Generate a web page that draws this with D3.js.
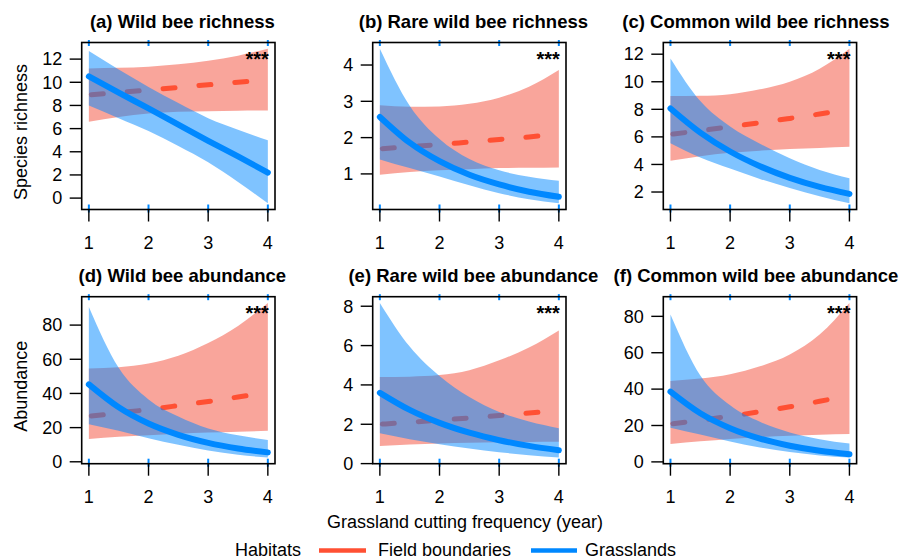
<!DOCTYPE html>
<html>
<head>
<meta charset="utf-8">
<script src="https://cdn.jsdelivr.net/npm/d3@7"></script>
<style>
  body { margin: 0; background: #fff; }
  text { font-family: "Liberation Sans", Arial, sans-serif; fill: #000; }
</style>
</head>
<body>
<div id="chart"></div>
<script>
var xVals = [1, 1.5, 2, 2.5, 3, 3.5, 4];
var xTicks = [1, 2, 3, 4];

var panelLetters = ["(a)", "(b)", "(c)", "(d)", "(e)", "(f)"];
var panelTitles = ["Wild bee richness", "Rare wild bee richness", "Common wild bee richness",
                   "Wild bee abundance", "Rare wild bee abundance", "Common wild bee abundance"];
var yTicks = [
  [0, 2, 4, 6, 8, 10, 12],
  [1, 2, 3, 4],
  [2, 4, 6, 8, 10, 12],
  [0, 20, 40, 60, 80],
  [0, 2, 4, 6, 8],
  [0, 20, 40, 60, 80]
];
var rowTitles = ["Species richness", "Abundance"];
var signif = ["***", "***", "***", "***", "***", "***"];

// Field boundaries (red, dashed)
var fieldFit = [
  [8.9, 9.12, 9.34, 9.56, 9.78, 10.0, 10.2],
  [1.69, 1.75, 1.81, 1.88, 1.95, 2.02, 2.1],
  [6.18, 6.45, 6.74, 7.03, 7.34, 7.66, 8.0],
  [26.6, 28.6, 30.6, 32.9, 35.3, 37.9, 40.7],
  [2.0, 2.1, 2.21, 2.32, 2.44, 2.57, 2.7],
  [20.8, 22.85, 25.1, 27.6, 30.3, 33.3, 36.6]
];
var fieldLow = [
  [6.6, 7.0, 7.3, 7.45, 7.5, 7.55, 7.56],
  [0.98, 1.05, 1.1, 1.13, 1.16, 1.17, 1.18],
  [4.27, 4.6, 4.85, 5.0, 5.12, 5.2, 5.28],
  [13.4, 14.6, 15.6, 16.4, 17.1, 17.6, 18.1],
  [0.89, 0.97, 1.02, 1.06, 1.08, 1.1, 1.11],
  [9.8, 11.3, 12.6, 13.6, 14.4, 14.9, 15.3]
];
var fieldHigh = [
  [11.2, 11.25, 11.35, 11.55, 11.85, 12.3, 12.9],
  [2.89, 2.85, 2.86, 2.93, 3.1, 3.4, 3.86],
  [8.96, 8.98, 9.1, 9.45, 10.0, 10.95, 12.4],
  [54.6, 55.3, 57.5, 62.0, 69.5, 79.5, 93.0],
  [4.4, 4.42, 4.5, 4.75, 5.25, 5.9, 6.77],
  [44.5, 45.8, 48.2, 52.5, 59.0, 70.0, 87.4]
];

// Grasslands (blue, solid)
var grassFit = [
  [10.5, 9.1, 7.75, 6.35, 4.95, 3.6, 2.2],
  [2.57, 1.86, 1.35, 0.975, 0.71, 0.51, 0.37],
  [8.06, 6.31, 4.94, 3.87, 3.03, 2.37, 1.86],
  [45.3, 31.9, 22.4, 15.8, 11.1, 7.8, 5.5],
  [3.6, 2.73, 2.07, 1.57, 1.19, 0.9, 0.68],
  [38.6, 26.7, 18.5, 12.8, 8.9, 6.1, 4.25]
];
var grassLow = [
  [8.0, 6.9, 5.8, 4.5, 3.1, 1.4, -0.45],
  [1.4, 1.16, 0.93, 0.69, 0.47, 0.3, 0.19],
  [5.53, 4.5, 3.7, 2.95, 2.3, 1.7, 1.18],
  [22.0, 18.2, 13.8, 9.9, 6.6, 4.1, 2.5],
  [1.54, 1.24, 0.99, 0.77, 0.58, 0.43, 0.31],
  [18.8, 15.0, 11.2, 7.9, 5.4, 3.55, 2.4]
];
var grassHigh = [
  [12.7, 11.1, 9.6, 8.2, 6.9, 5.9, 5.0],
  [4.45, 2.88, 1.96, 1.41, 1.1, 0.92, 0.81],
  [11.69, 8.6, 6.75, 5.5, 4.45, 3.6, 3.0],
  [90.6, 55.0, 36.5, 26.5, 19.5, 15.5, 12.8],
  [8.17, 5.95, 4.45, 3.38, 2.62, 2.14, 1.8],
  [81.0, 47.5, 31.1, 22.0, 16.2, 12.5, 10.1]
];

var legendLabels = ["Field boundaries", "Grasslands"];

var red = "#ff5033", redBand = "#f44b37";
var blue = "#0088ff", blueBand = "#0088ff";

var svgWidth = 909, svgHeight = 560;
var colLeft = [81.7, 372.7, 663.3];
var titleShift = [4, 4, -4];
var rowTop = [42.5, 296.7];
var boxW = 193.3, boxH = 167;

var svg = d3.select("#chart").append("svg")
  .attr("width", svgWidth)
  .attr("height", svgHeight);

// R style 4% padding around data range
function padded(lo, hi) {
  var d = (hi - lo) * 0.04;
  return [lo - d, hi + d];
}

panelTitles.forEach(function(title, i) {
  var col = i % 3, row = Math.floor(i / 3);
  var g = svg.append("g")
    .attr("transform", `translate(${colLeft[col]}, ${rowTop[row]})`);

  var x = d3.scaleLinear().domain(padded(1, 4)).range([0, boxW]);
  var lo = d3.min(fieldLow[i].concat(grassLow[i]));
  var hi = d3.max(fieldHigh[i].concat(grassHigh[i]));
  var y = d3.scaleLinear().domain(padded(lo, hi)).range([boxH, 0]);

  var band = function(low, high) {
    return d3.area()
      .x(function(d, j) { return x(xVals[j]); })
      .y0(function(d, j) { return y(low[j]); })
      .y1(function(d, j) { return y(high[j]); })
      .curve(d3.curveMonotoneX)(xVals);
  };
  var line = function(vals) {
    return d3.line()
      .x(function(d, j) { return x(xVals[j]); })
      .y(function(d) { return y(d); })
      .curve(d3.curveMonotoneX)(vals);
  };

  // field boundaries
  g.append("path").attr("d", band(fieldLow[i], fieldHigh[i]))
    .attr("fill", redBand).attr("fill-opacity", 0.5);
  g.append("path").attr("d", line(fieldFit[i]))
    .attr("fill", "none").attr("stroke", red)
    .attr("stroke-width", 5)
    .attr("stroke-linecap", "round")
    .attr("stroke-dasharray", "12,24")
    .attr("stroke-dashoffset", -2.5);

  // grasslands
  g.append("path").attr("d", band(grassLow[i], grassHigh[i]))
    .attr("fill", blueBand).attr("fill-opacity", 0.5);
  g.append("path").attr("d", line(grassFit[i]))
    .attr("fill", "none").attr("stroke", blue)
    .attr("stroke-width", 6)
    .attr("stroke-linecap", "round");

  // rug marks on top and bottom
  xTicks.forEach(function(t) {
    g.append("line").attr("x1", x(t)).attr("x2", x(t))
      .attr("y1", -2.5).attr("y2", 3.5)
      .attr("stroke", blue).attr("stroke-width", 2);
    g.append("line").attr("x1", x(t)).attr("x2", x(t))
      .attr("y1", boxH - 5).attr("y2", boxH + 3)
      .attr("stroke", blue).attr("stroke-width", 2);
  });

  // box
  g.append("rect")
    .attr("width", boxW).attr("height", boxH)
    .attr("fill", "none").attr("stroke", "#000").attr("stroke-width", 1.6);

  // y axis ticks
  yTicks[i].forEach(function(t) {
    g.append("line").attr("x1", -12).attr("x2", 0)
      .attr("y1", y(t)).attr("y2", y(t))
      .attr("stroke", "#000").attr("stroke-width", 1.4);
    g.append("text")
      .attr("x", -19.5).attr("y", y(t)).attr("dy", "0.35em")
      .attr("text-anchor", "end").attr("font-size", 18)
      .text(t);
  });

  // x axis ticks
  xTicks.forEach(function(t) {
    g.append("line").attr("x1", x(t)).attr("x2", x(t))
      .attr("y1", boxH).attr("y2", boxH + 12)
      .attr("stroke", "#000").attr("stroke-width", 1.4);
    g.append("text")
      .attr("x", x(t)).attr("y", boxH + 39.5)
      .attr("text-anchor", "middle").attr("font-size", 18)
      .text(t);
  });

  // significance stars
  g.append("text")
    .attr("x", x(4) + 1).attr("y", 23.5)
    .attr("text-anchor", "end").attr("font-size", 20).attr("font-weight", "bold")
    .text(signif[i]);

  // panel title
  g.append("text")
    .attr("x", boxW / 2 + titleShift[col]).attr("y", -15)
    .attr("text-anchor", "middle").attr("font-size", 18.5).attr("font-weight", "bold")
    .text(panelLetters[i] + " " + title);
});

// row y axis titles
rowTitles.forEach(function(t, r) {
  svg.append("text")
    .attr("transform", `translate(20.5, ${rowTop[r] + boxH / 2 + 6}) rotate(-90)`)
    .attr("dy", "0.35em")
    .attr("text-anchor", "middle").attr("font-size", 18)
    .text(t);
});

// x axis title
svg.append("text")
  .attr("x", 465).attr("y", 528)
  .attr("text-anchor", "middle").attr("font-size", 18)
  .text("Grassland cutting frequency (year)");

// legend
var legend = svg.append("g");
legend.append("text").attr("x", 235).attr("y", 555.5).attr("font-size", 18).text("Habitats");
legend.append("line").attr("x1", 319).attr("x2", 366).attr("y1", 550.5).attr("y2", 550.5)
  .attr("stroke", red).attr("stroke-width", 4.5);
legend.append("text").attr("x", 378).attr("y", 555.5).attr("font-size", 18).text(legendLabels[0]);
legend.append("line").attr("x1", 531).attr("x2", 577).attr("y1", 550.5).attr("y2", 550.5)
  .attr("stroke", blue).attr("stroke-width", 4.5);
legend.append("text").attr("x", 585).attr("y", 555.5).attr("font-size", 18).text(legendLabels[1]);
</script>
</body>
</html>
